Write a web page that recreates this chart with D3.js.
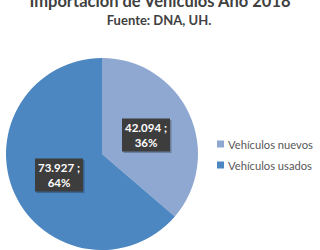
<!DOCTYPE html>
<html>
<head>
<meta charset="utf-8">
<script src="https://cdn.jsdelivr.net/npm/d3@7"></script>
<style>
  body { margin: 0; background: #fff; }
  svg { display: block; font-family: Lato, "Noto Sans", sans-serif; }
</style>
</head>
<body>
<svg width="320" height="250"></svg>
<script>
// data
let categories = ["Vehículos nuevos", "Vehículos usados"],
  values = [42094, 73927],
  valueLabels = ["42.094 ;", "73.927 ;"],
  percentLabels = ["36%", "64%"],
  colors = ["#8FA8D1", "#4C87C1"];

let width = 320,
  height = 250,
  cx = 102,
  cy = 154,
  radius = 96;

let svg = d3.select("svg");

// title (cut at the top like the original)
svg.append("text")
  .attr("x", 160)
  .attr("y", 7)
  .attr("text-anchor", "middle")
  .attr("font-size", 16.5)
  .attr("font-weight", "bold")
  .attr("fill", "#404040")
  .text("Importación de Vehículos Año 2018");

svg.append("text")
  .attr("x", 159)
  .attr("y", 25)
  .attr("text-anchor", "middle")
  .attr("font-size", 13)
  .attr("font-weight", "bold")
  .attr("fill", "#404040")
  .text("Fuente: DNA, UH.");

let pie = d3.pie().sort(null).value(d => d)
let arcs = pie(values);

let arc = d3.arc().innerRadius(0).outerRadius(radius);

let g = svg.append("g")
  .attr("transform", "translate(" + cx + "," + cy + ")");

g.selectAll("path")
  .data(arcs)
  .enter()
  .append("path")
  .attr("d", arc)
  .attr("fill", (d, i) => colors[i]);

// data labels - dark boxes
let labelPos = [[44, -19], [-43, 21]];
let boxW = 48, boxH = 33;

let labels = g.selectAll("g.lbl")
  .data(arcs)
  .enter()
  .append("g")
  .attr("class", "lbl")
  .attr("transform", (d, i) => "translate(" + labelPos[i][0] + "," + labelPos[i][1] + ")");

labels.append("rect")
  .attr("x", -boxW / 2 + 1.5)
  .attr("y", -boxH / 2 + 1.5)
  .attr("width", boxW)
  .attr("height", boxH)
  .attr("fill", "#000")
  .attr("opacity", 0.25);

labels.append("rect")
  .attr("x", -boxW / 2)
  .attr("y", -boxH / 2)
  .attr("width", boxW)
  .attr("height", boxH)
  .attr("fill", "#3d3d3d");

labels.append("text")
  .attr("text-anchor", "middle")
  .attr("y", -3)
  .attr("font-size", 11.5)
  .attr("font-weight", "bold")
  .attr("fill", "#fff")
  .text((d, i) => valueLabels[i]);

labels.append("text")
  .attr("text-anchor", "middle")
  .attr("y", 12)
  .attr("font-size", 11.5)
  .attr("font-weight", "bold")
  .attr("fill", "#fff")
  .text((d, i) => percentLabels[i]);

// legend
let legend = svg.append("g")
  .attr("transform", "translate(217,144)");

let items = legend.selectAll("g")
  .data(categories)
  .enter()
  .append("g")
  .attr("transform", (d, i) => "translate(0," + i * 21 + ")");

items.append("rect")
  .attr("x", 0)
  .attr("y", -3.5)
  .attr("width", 7)
  .attr("height", 7)
  .attr("fill", (d, i) => colors[i]);

items.append("text")
  .attr("x", 11)
  .attr("y", 4.5)
  .attr("font-size", 11.2)
  .attr("fill", "#595959")
  .text(d => d);
</script>
</body>
</html>
